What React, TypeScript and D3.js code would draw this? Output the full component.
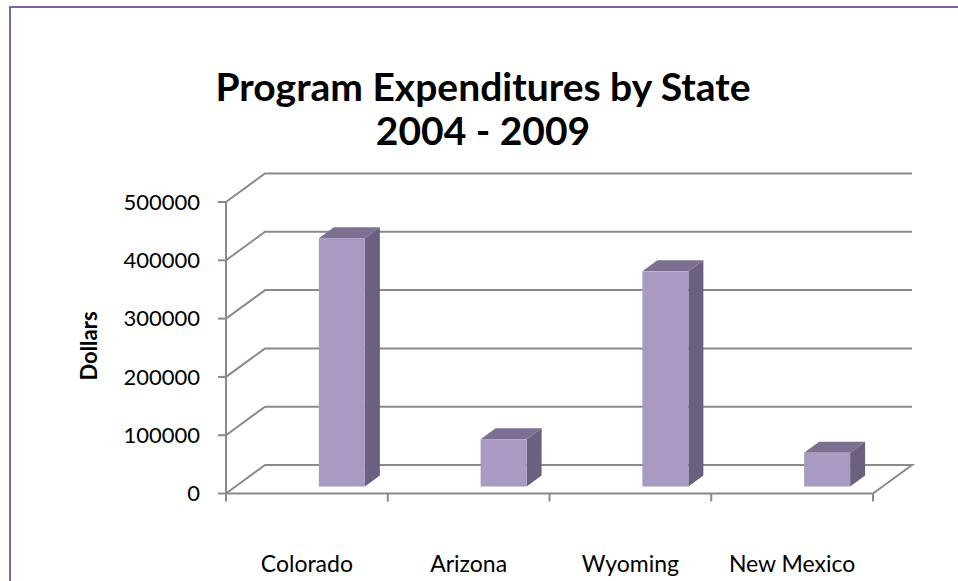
import React from "react";
import * as d3 from "d3";

const categories = ["Colorado", "Arizona", "Wyoming", "New Mexico"];
const values = [426000, 81000, 369000, 58000];
const yTicks = [0, 100000, 200000, 300000, 400000, 500000];
const titleLines = ["Program Expenditures by State", "2004 - 2009"];
const yTitle = "Dollars";

const W = 958;
const H = 581;
const FONT = "Lato, 'Open Sans', sans-serif";

export default function App() {
  const x0 = 226, x1 = 873;
  const yFront0 = 493.5, yFrontTop = 202;
  const depthX = 39, depthY = -28.5;

  const x = d3.scaleBand<string>().domain(categories).range([x0, x1]).padding(0);
  const y = d3.scaleLinear().domain([0, 500000]).range([yFront0, yFrontTop]);

  const gridColor = "#8a8a8a";
  const barFront = "#a89ac0";
  const barTop = "#7d6f92";
  const barSide = "#6b6080";

  const barW = 46;
  const barShiftX = 35;
  const barShiftY = -7;
  const barDX = 15, barDY = -11;

  const boundaries = [...categories.map((c) => x(c)!), x1];

  return (
    <svg width={W} height={H} style={{ position: "absolute", left: 0, top: 0, display: "block" }}>
      <rect x={0} y={0} width={W} height={H} fill="#fff" />
      <rect x={10} y={7} width={W + 20} height={H + 20} fill="none" stroke="#8064a2" strokeWidth={2} />

      <text x={483} y={101} textAnchor="middle" fontFamily={FONT} fontWeight={700} fontSize={39} fill="#000">
        {titleLines[0]}
      </text>
      <text x={483} y={145} textAnchor="middle" fontFamily={FONT} fontWeight={700} fontSize={39} fill="#000">
        {titleLines[1]}
      </text>

      {yTicks.map((t) => {
        const yf = y(t);
        const yb = yf + depthY;
        return t > 0 ? (
          <polyline
            key={"g" + t}
            points={`${x0},${yf} ${x0 + depthX},${yb} ${x1 + depthX},${yb}`}
            fill="none"
            stroke={gridColor}
            strokeWidth={2}
          />
        ) : null;
      })}

      <polyline
        points={`${x0},${y(0)} ${x0 + depthX},${y(0) + depthY} ${x1 + depthX},${y(0) + depthY} ${x1},${y(0)}`}
        fill="none"
        stroke={gridColor}
        strokeWidth={2}
      />

      {categories.map((c, i) => {
        const cx = x(c)! + x.bandwidth() / 2 + barShiftX;
        const L = cx - barW / 2;
        const R = cx + barW / 2;
        const T = y(values[i]) + barShiftY;
        const B = y(0) + barShiftY;
        return (
          <g key={c}>
            <polygon points={`${R},${T} ${R + barDX},${T + barDY} ${R + barDX},${B + barDY} ${R},${B}`} fill={barSide} />
            <polygon points={`${L},${T} ${R},${T} ${R + barDX},${T + barDY} ${L + barDX},${T + barDY}`} fill={barTop} />
            <rect x={L} y={T} width={barW} height={B - T} fill={barFront} />
          </g>
        );
      })}

      <line x1={x0} y1={y(500000)} x2={x0} y2={y(0)} stroke={gridColor} strokeWidth={2} />
      <line x1={x0} y1={y(0)} x2={x1} y2={y(0)} stroke={gridColor} strokeWidth={2} />
      {yTicks.map((t) => (
        <line key={"yt" + t} x1={x0 - 8} y1={y(t)} x2={x0} y2={y(t)} stroke={gridColor} strokeWidth={2} />
      ))}
      {boundaries.map((b, i) => (
        <line key={"xt" + i} x1={b} y1={y(0)} x2={b} y2={y(0) + 8} stroke={gridColor} strokeWidth={2} />
      ))}

      {yTicks.map((t) => (
        <text
          key={"yl" + t}
          x={200}
          y={y(t)}
          dy="0.35em"
          textAnchor="end"
          fontFamily={FONT}
          fontSize={22}
          fill="#000"
        >
          {t}
        </text>
      ))}

      {categories.map((c) => (
        <text
          key={"cl" + c}
          x={x(c)! + x.bandwidth() / 2}
          y={564}
          dy="0.35em"
          textAnchor="middle"
          fontFamily={FONT}
          fontSize={23}
          fill="#000"
        >
          {c}
        </text>
      ))}

      <text
        transform={`translate(97,346) rotate(-90)`}
        textAnchor="middle"
        fontFamily={FONT}
        fontWeight={700}
        fontSize={22}
        fill="#000"
      >
        {yTitle}
      </text>
    </svg>
  );
}
